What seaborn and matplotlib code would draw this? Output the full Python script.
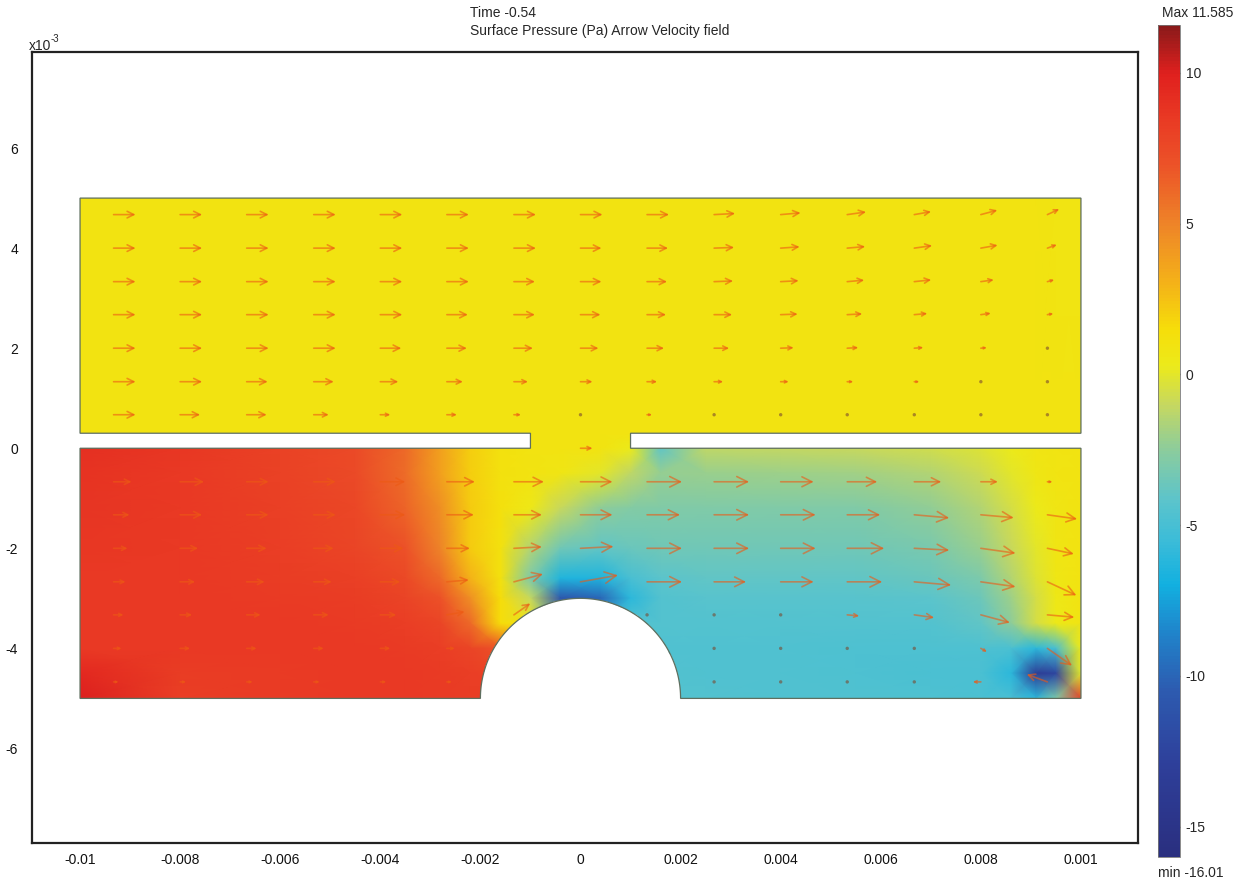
import numpy as np
import pandas as pd
import seaborn as sns
import matplotlib.pyplot as plt
from matplotlib.colors import LinearSegmentedColormap
from matplotlib.path import Path
from matplotlib.patches import PathPatch

# ---- geometry (mm) ----
half_width = 10.0
half_height = 5.0
plate_bottom, plate_top = 0.0, 0.3
gap_half = 1.0
bump_radius = 2.0

# ---- surface pressure (Pa), nodes in mm ----
p_x = [-10, -8, -6, -4.5, -3.5, -2.8, -2.2, -1.6, -1.0, -0.4, 0.4,
       1.0, 1.6, 2.5, 4.0, 5.5, 7.0, 8.0, 8.6, 9.1, 9.5, 10]
p_y = [5.0, 0.3, 0.0, -0.5, -1.2, -2.0, -2.6, -3.0, -3.5, -4.0, -4.5, -5.0]

p_top    = [1.0] * 20 + [0.9, 0.9]
p_plate  = [1.0] * 22
p_m00 = [9.0, 8.6, 8.0, 7.4, 6.0, 3.8, 2.0, 1.2, 1.0, 1.0, 1.0,
         0.3, -4.0, -1.2, -1.1, -1.0, -0.6, -0.2, 0.3, 0.7, 0.9, 1.0]
p_m05 = [8.8, 8.5, 8.0, 7.4, 5.9, 3.8, 2.0, 1.2, 1.0, 0.8, 0.0,
         -1.2, -2.3, -2.2, -2.1, -1.9, -1.5, -0.8, 0.0, 0.6, 0.9, 1.0]
p_m12 = [8.7, 8.5, 8.1, 7.6, 6.3, 4.5, 2.2, 1.3, 0.5, -1.0, -2.5,
         -2.8, -2.9, -2.9, -2.9, -2.9, -2.4, -1.5, -0.5, 0.3, 0.8, 1.0]
p_m20 = [8.6, 8.5, 8.2, 7.8, 7.0, 5.0, 2.2, 1.2, -1.5, -3.5, -4.0,
         -3.7, -3.5, -3.5, -3.5, -3.5, -3.1, -2.2, -1.0, 0.0, 0.7, 1.0]
p_m26 = [8.5, 8.5, 8.3, 8.1, 7.5, 6.0, 3.0, 1.2, -3.0, -6.5, -6.5,
         -5.0, -4.2, -4.0, -4.0, -4.0, -3.7, -3.0, -1.5, -0.2, 0.6, 1.0]
p_m30 = [8.5, 8.5, 8.4, 8.3, 7.9, 7.0, 4.5, 1.5, -1.0, -11.0, -10.0,
         -6.0, -4.5, -4.3, -4.3, -4.3, -4.2, -3.6, -2.0, -0.5, 0.5, 1.0]
p_m35 = [8.5, 8.5, 8.5, 8.4, 8.2, 7.8, 6.0, 1.5, 1.0, -5.0, -5.0,
         -4.5, -4.5, -4.5, -4.5, -4.5, -4.5, -4.0, -2.5, -0.5, 0.4, 0.9]
p_m40 = [8.5, 8.5, 8.5, 8.5, 8.4, 8.2, 7.8, 7.0, 5.0, 0.0, -4.5,
         -4.5, -4.6, -4.6, -4.6, -4.7, -4.7, -4.7, -4.8, -6.0, -5.0, 0.3]
p_m45 = [9.5, 8.3, 8.4, 8.5, 8.5, 8.4, 8.2, 8.0, 6.0, 0.0, -4.5,
         -4.5, -4.5, -4.6, -4.6, -4.7, -4.8, -4.9, -6.0, -13.5, -12.5, 0.0]
p_m50 = [10.0, 8.2, 8.4, 8.5, 8.5, 8.4, 8.3, 8.3, 5.0, 0.0, -4.5,
         -4.5, -4.5, -4.5, -4.6, -4.6, -4.7, -4.8, -5.0, -6.0, -3.0, 8.0]

p_min, p_max = -16.01, 11.585

# ---- arrow velocity field, arrow grid in mm, length in arbitrary units ----
arrow_x = [-9.33, -8.0, -6.67, -5.33, -4.0, -2.67, -1.33, 0.0,
           1.33, 2.67, 4.0, 5.33, 6.67, 8.0, 9.33]
arrow_y = [4.67, 4.0, 3.33, 2.67, 2.0, 1.33, 0.67, 0.0,
           -0.67, -1.33, -2.0, -2.67, -3.33, -4.0, -4.67]
speed = [
    [22, 22, 22, 22, 22, 22, 22, 22, 22, 21, 20, 19, 17, 17, 13],
    [22, 22, 22, 22, 22, 22, 22, 21, 21, 20, 19, 18, 18, 17, 10],
    [22, 22, 22, 22, 22, 22, 21, 21, 20, 19, 18, 17, 17, 13, 7],
    [22, 22, 22, 22, 22, 21, 21, 20, 19, 18, 17, 15, 13, 10, 6],
    [22, 22, 22, 22, 21, 20, 19, 18, 17, 15, 13, 11, 9, 6, 4],
    [22, 22, 21, 20, 18, 16, 14, 12, 10, 9, 8, 6, 5, 4, 3],
    [22, 20, 20, 15, 10, 10, 7, 4, 5, 3, 3, 2, 2, 2, 2],
    [0, 0, 0, 0, 0, 0, 0, 12, 0, 0, 0, 0, 0, 0, 0],
    [18, 24, 22, 22, 25, 28, 30, 32, 35, 35, 33, 30, 27, 17, 5],
    [16, 22, 22, 22, 25, 27, 28, 32, 33, 35, 35, 33, 35, 33, 30],
    [14, 18, 20, 20, 23, 23, 28, 33, 35, 35, 35, 37, 35, 35, 27],
    [12, 15, 18, 18, 20, 22, 30, 38, 35, 32, 33, 35, 37, 35, 32],
    [10, 12, 14, 15, 16, 18, 20, 0, 3, 3, 3, 12, 20, 30, 27],
    [8, 10, 10, 10, 10, 8, 0, 0, 0, 3, 3, 3, 3, 7, 30],
    [5, 6, 6, 6, 6, 5, 0, 0, 0, 3, 3, 3, 3, 8, 22],
]
angle_deg = [
    [0, 0, 0, 0, 0, 0, 0, 0, 0, 3, 5, 8, 10, 15, 25],
    [0, 0, 0, 0, 0, 0, 0, 0, 0, 2, 4, 5, 8, 10, 20],
    [0, 0, 0, 0, 0, 0, 0, 0, 0, 2, 3, 5, 6, 8, 15],
    [0, 0, 0, 0, 0, 0, 0, 0, 0, 0, 2, 3, 5, 8, 10],
    [0, 0, 0, 0, 0, 0, 0, 0, 0, 0, 2, 3, 4, 5, 5],
    [0, 0, 0, 0, 0, 0, 0, 0, 0, 0, 0, 0, 0, 0, 0],
    [0, 0, 0, 0, 0, 0, 0, 0, 0, 0, 0, 0, 0, 0, 0],
    [0, 0, 0, 0, 0, 0, 0, 0, 0, 0, 0, 0, 0, 0, 0],
    [0, 0, 0, 0, 0, 0, 0, 0, 0, 0, 0, 0, 0, 0, 0],
    [0, 0, 0, 0, 0, 0, 0, 0, 0, 0, 0, 0, -5, -5, -8],
    [0, 0, 0, 0, 0, 0, 3, 3, 0, 0, 0, 0, -3, -8, -12],
    [0, 0, 0, 0, 0, 5, 15, 10, 0, 0, 0, 0, -5, -8, -25],
    [0, 0, 0, 0, 0, 10, 35, 0, 0, 0, 0, -5, -8, -15, -5],
    [0, 0, 0, 0, 0, 0, 0, 0, 0, 0, 0, 0, 0, -30, -35],
    [0, 0, 0, 0, 0, 0, 0, 0, 0, 0, 0, 0, 0, 180, 160],
]
arrow_scale = 0.02  # mm of arrow per unit

x_ticks = [-10, -8, -6, -4, -2, 0, 2, 4, 6, 8, 10]
x_ticklabels = ["-0.01", "-0.008", "-0.006", "-0.004", "-0.002", "0",
                "0.002", "0.004", "0.006", "0.008", "0.001"]
y_ticks = [-6, -4, -2, 0, 2, 4, 6]
y_ticklabels = ["-6", "-4", "-2", "0", "2", "4", "6"]
cbar_ticks = [10, 5, 0, -5, -10, -15]
cbar_ticklabels = ["10", "5", "0", "-5", "-10", "-15"]

# colour table of the bar (value, colour)
cmap_stops = [(-16.01, "#2a2f7f"), (-13.0, "#2e3f9a"), (-10.5, "#2d5bb0"),
              (-8.5, "#1f86cc"), (-7.0, "#12b0e0"), (-5.5, "#3cbcd8"),
              (-4.2, "#5bc4cc"), (-2.5, "#8ccc9c"), (-1.0, "#c6d860"),
              (0.3, "#ecea1a"), (1.5, "#f6de0a"), (3.0, "#f4b318"),
              (5.0, "#ee8428"), (7.0, "#ec5228"), (8.5, "#e93a24"),
              (10.0, "#e0201e"), (11.585, "#8a1a1a")]

sns.set_theme(style="white")
plt.rcParams["font.family"] = ["Liberation Sans", "DejaVu Sans"]

cmap = LinearSegmentedColormap.from_list(
    "pressure", [((v - p_min) / (p_max - p_min), c) for v, c in cmap_stops])

fig = plt.figure(figsize=(12.5, 8.81), dpi=100)
ax = fig.add_axes([32 / 1250, 1 - 843 / 881, 1106 / 1250, 791 / 881])

# domain outline with gap in the plate and the half-cylinder bump
t = np.linspace(0, np.pi, 120)
arc = list(zip(bump_radius * np.cos(t), -half_height + bump_radius * np.sin(t)))
verts = ([(-half_width, half_height), (half_width, half_height),
          (half_width, plate_top), (gap_half, plate_top),
          (gap_half, plate_bottom), (half_width, plate_bottom),
          (half_width, -half_height), (bump_radius, -half_height)]
         + arc +
         [(-half_width, -half_height), (-half_width, plate_bottom),
          (-gap_half, plate_bottom), (-gap_half, plate_top),
          (-half_width, plate_top), (-half_width, half_height)])
domain = PathPatch(Path(verts, closed=True), facecolor="none",
                   edgecolor="#5f6f5f", lw=0.9, zorder=3)
ax.add_patch(domain)

pressure = np.array([p_top, p_plate, p_m00, p_m05, p_m12, p_m20, p_m26,
                     p_m30, p_m35, p_m40, p_m45, p_m50])
X, Y = np.meshgrid(p_x, p_y)
mesh = ax.pcolormesh(X, Y, pressure, shading="gouraud", cmap=cmap,
                     vmin=p_min, vmax=p_max, zorder=1)
mesh.set_clip_path(domain)

# arrows
arrow_color = (0.93, 0.35, 0.08)
dots = []
for i, yv in enumerate(arrow_y):
    for j, xv in enumerate(arrow_x):
        s = speed[i][j]
        if s == 0:
            continue
        if s < 5:
            dots.append({"x": xv, "y": yv})
            continue
        a = np.deg2rad(angle_deg[i][j])
        dx, dy = s * arrow_scale * np.cos(a), s * arrow_scale * np.sin(a)
        ax.annotate("", xy=(xv + dx, yv + dy), xytext=(xv, yv),
                    arrowprops=dict(arrowstyle="->,head_length=0.6,head_width=0.3",
                                    color=arrow_color, alpha=0.6, lw=1.2,
                                    shrinkA=0, shrinkB=0,
                                    mutation_scale=0.36 * s),
                    zorder=4)
sns.scatterplot(data=pd.DataFrame(dots), x="x", y="y", ax=ax, color="#7a4a30",
                alpha=0.6, s=6, edgecolor="none", legend=False, zorder=4)

ax.set_xlim(-10.96, 11.14)
ax.set_ylim(-7.89, 7.92)
ax.set_xticks(x_ticks)
ax.set_xticklabels(x_ticklabels)
ax.set_yticks(y_ticks)
ax.set_yticklabels(y_ticklabels)
ax.set_xlabel("")
ax.set_ylabel("")
ax.tick_params(axis="both", length=0, labelsize=10, colors="#111111")
ax.tick_params(axis="x", pad=7)
ax.tick_params(axis="y", pad=10)
for sp in ax.spines.values():
    sp.set_linewidth(1.6)
    sp.set_color("#222222")

fig.text(29 / 1250, 1 - 50 / 881, "x10", fontsize=10, va="baseline")
fig.text(51 / 1250, 1 - 42 / 881, "-3", fontsize=7, va="baseline")
fig.text(470 / 1250, 1 - 13 / 881, "Time -0.54", fontsize=10, va="center")
fig.text(470 / 1250, 1 - 31 / 881, "Surface Pressure (Pa) Arrow Velocity field",
         fontsize=10, va="center")

# colour bar
cax = fig.add_axes([1158 / 1250, 1 - 857 / 881, 22 / 1250, 832 / 881])
cb = fig.colorbar(mesh, cax=cax, ticks=cbar_ticks)
cb.set_ticklabels(cbar_ticklabels)
cb.outline.set_linewidth(0.6)
cb.outline.set_edgecolor("#777777")
cax.tick_params(axis="y", which="both", left=True, right=True,
                labelleft=False, labelright=True, direction="in",
                length=4, width=1, color="#333333", labelsize=10, pad=4)
fig.text(1198 / 1250, 1 - 13 / 881, "Max 11.585", fontsize=10,
         ha="center", va="center")
fig.text(1191 / 1250, 1 - 873 / 881, "min -16.01", fontsize=10,
         ha="center", va="center")

fig.savefig("out.png", dpi=100)
